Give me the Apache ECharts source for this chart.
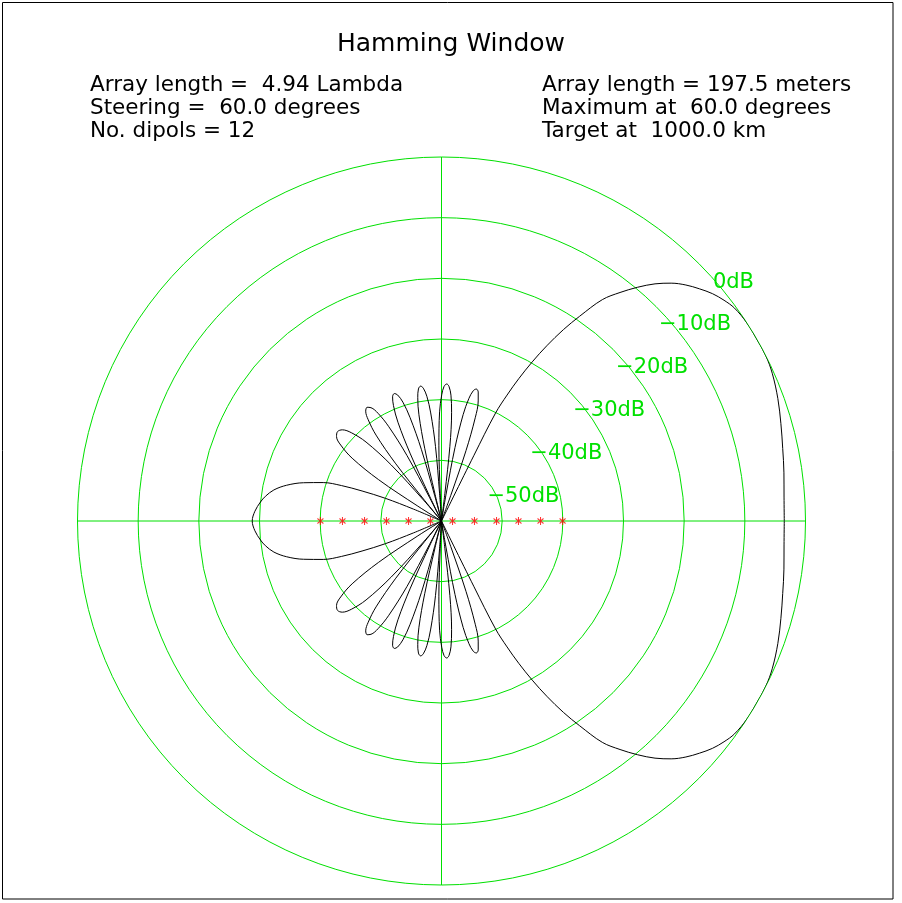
<!DOCTYPE html>
<html>
<head>
  <meta charset="utf-8">
  <script src="https://cdn.jsdelivr.net/npm/echarts@6/dist/echarts.min.js"></script>
  <style>
    html, body { margin: 0; padding: 0; background: #fff; }
    #main { width: 902px; height: 903px; }
  </style>
</head>
<body>
  <div id="main"></div>
  <script>
    // pattern, upper half only: [angle in degrees from the array axis, dB]
    var mainLobe = [
      [0, -3.5], [4, -3.4], [8, -3.0], [12, -2.5], [16, -1.8], [20, -1.0], [24, -0.3],
      [27, 0], [30, 0], [33, 0], [36, -0.3], [38, -0.9], [40, -1.7], [42, -2.8],
      [44, -4.0], [46, -5.5], [48, -7.4], [50, -9.7], [52, -12.2], [54, -14.9],
      [56, -19.3], [57.5, -22.6], [59, -26.3], [60.3, -29.8], [61.5, -33.3],
      [62.5, -36.6], [63.4, -40.1], [63.7, -48], [64, -60]
    ];
    var sideLobes = [
      [[69.7, -60], [70.1, -55.5], [70.8, -47.7], [71.9, -42.1], [73.0, -39.3], [74.1, -37.9], [75.2, -37.5],
       [76.3, -37.9], [77.4, -39.3], [78.5, -42.1], [79.6, -47.7], [80.3, -55.5], [80.7, -60]],
      [[82.6, -60], [83.0, -55.4], [83.6, -47.6], [84.7, -42.0], [85.7, -39.2], [86.8, -37.8], [87.8, -37.4],
       [88.9, -37.8], [89.9, -39.2], [91.0, -42.0], [92.0, -47.6], [92.6, -55.4], [93.1, -60]],
      [[93.6, -60], [94.0, -55.5], [94.6, -47.7], [95.7, -42.1], [96.7, -39.3], [97.8, -37.9], [98.8, -37.5],
       [99.9, -37.9], [100.9, -39.3], [102.0, -42.1], [103.0, -47.7], [103.6, -55.5], [104.1, -60]],
      [[104.6, -60], [105.0, -55.6], [105.7, -47.8], [106.9, -42.2], [108.0, -39.4], [109.2, -38.0], [110.3, -37.6],
       [111.5, -38.0], [112.6, -39.4], [113.8, -42.2], [114.9, -47.8], [115.6, -55.6], [116.1, -60]],
      [[116.5, -60], [117.0, -55.6], [117.8, -47.8], [119.2, -42.2], [120.5, -39.4], [121.9, -38.0], [123.2, -37.6],
       [124.6, -38.0], [125.9, -39.4], [127.3, -42.2], [128.6, -47.8], [129.4, -55.6], [130.0, -60]],
      [[130.7, -55.4], [131.9, -47.6], [133.7, -42.0], [135.6, -39.2], [137.4, -37.8], [139.3, -37.4],
       [141.2, -37.8], [143.0, -39.2], [144.9, -42.0], [146.7, -47.6], [147.9, -55.4], [148.6, -60]]
    ];
    var backLobe = [
      [156, -60], [157, -55], [158, -50], [159.3, -46], [160.5, -42.5], [162, -39.5],
      [164.5, -36.4], [167, -33.8], [169.5, -31.9], [172, -30.7], [174, -30.0],
      [177, -29.2], [180, -28.8]
    ];

    // dipole positions along the array, meters
    var dipoleX = [-98.8, -80.8, -62.8, -44.9, -26.9, -9.0, 9.0, 26.9, 44.9, 62.8, 80.8, 98.8];

    var dbTicks = [-50, -40, -30, -20, -10, 0];
    var dbLabels = ['\u221250dB', '\u221240dB', '\u221230dB', '\u221220dB', '\u221210dB', '0dB'];

    var leftInfo = ['Array length =  4.94 Lambda', 'Steering =  60.0 degrees', 'No. dipols = 12'];
    var rightInfo = ['Array length = 197.5 meters', 'Maximum at  60.0 degrees', 'Target at  1000.0 km'];

    var GREEN = '#00e000';
    var FONT = 'DejaVu Sans';
    var CX = 441.5, CY = 521, R = 364;

    // upper half, then the mirror image below the axis
    var upper = mainLobe.slice();
    sideLobes.forEach(function (l) { upper = upper.concat(l); });
    upper = upper.concat(backLobe);
    var lower = upper.slice(0, -1).reverse().map(function (p) { return [360 - p[0], p[1]]; });
    var pattern = upper.concat(lower).map(function (p) { return [Math.max(p[1], -60), p[0]]; });

    var chart = echarts.init(document.getElementById('main'));

    var option = {
      animation: false,
      backgroundColor: '#fff',
      title: [
        {
          text: 'Hamming Window', left: 'center', top: 31, padding: 0,
          textStyle: { fontFamily: FONT, fontSize: 25, fontWeight: 'normal', color: '#000', lineHeight: 26 }
        },
        {
          text: leftInfo.join('\n'), left: 90, top: 74, padding: 0,
          textStyle: { fontFamily: FONT, fontSize: 21.5, fontWeight: 'normal', color: '#000', lineHeight: 23 }
        },
        {
          text: rightInfo.join('\n'), left: 542, top: 74, padding: 0,
          textStyle: { fontFamily: FONT, fontSize: 21.5, fontWeight: 'normal', color: '#000', lineHeight: 23 }
        }
      ],
      polar: [
        { center: [CX, CY], radius: R },
        { center: [CX, CY], radius: R }
      ],
      angleAxis: [
        {
          polarIndex: 0, type: 'value', min: 0, max: 360, interval: 90,
          startAngle: 0, clockwise: false,
          axisLine: { show: false },
          axisTick: { show: false }, axisLabel: { show: false },
          splitLine: { show: true, lineStyle: { color: GREEN, width: 1 } }
        },
        {
          polarIndex: 1, type: 'value', min: 0, max: 360, startAngle: 45, clockwise: false,
          axisLine: { show: false }, axisTick: { show: false },
          axisLabel: { show: false }, splitLine: { show: false }
        }
      ],
      radiusAxis: [
        {
          polarIndex: 0, type: 'value', min: -60, max: 0, interval: 10,
          axisLine: { show: false }, axisTick: { show: false }, axisLabel: { show: false },
          splitLine: { show: true, lineStyle: { color: GREEN, width: 1 } }
        },
        {
          polarIndex: 1, type: 'value', min: -60, max: 0, interval: 10,
          axisLine: { show: false }, axisTick: { show: false }, splitLine: { show: false },
          axisLabel: {
            show: true, margin: 0, color: GREEN, fontFamily: FONT, fontSize: 21,
            align: 'left', verticalAlign: 'middle', padding: [37, 0, 0, 3],
            formatter: function (v) {
              var i = dbTicks.indexOf(v);
              if (i < 0) return '';
              return v === 0 ? '{zero|' + dbLabels[i] + '}' : dbLabels[i];
            },
            rich: {
              zero: { padding: [0, 0, 0, 11], color: GREEN, fontFamily: FONT, fontSize: 21 }
            }
          }
        }
      ],
      grid: { left: CX - R, top: CY - R, width: 2 * R, height: 2 * R },
      xAxis: { type: 'value', min: -297, max: 297, show: false },
      yAxis: { type: 'value', min: -297, max: 297, show: false },
      graphic: [
        {
          type: 'rect', silent: true,
          shape: { x: 2.5, y: 2.5, width: 890.5, height: 896.5 },
          style: { fill: 'none', stroke: '#000', lineWidth: 1 }
        }
      ],
      series: [
        {
          type: 'line', coordinateSystem: 'polar', polarIndex: 0,
          data: pattern, symbol: 'none', clip: false, z: 3, smooth: 0.35,
          lineStyle: { color: '#000', width: 1 }
        },
        {
          type: 'scatter', xAxisIndex: 0, yAxisIndex: 0,
          data: dipoleX.map(function (x) { return [x, 0]; }),
          symbol: 'path://M3,0L3,8M0,1.5L6,6.5M6,1.5L0,6.5', symbolSize: [6, 8], z: 4,
          itemStyle: { color: 'rgba(0,0,0,0)', borderColor: '#ff0000', borderWidth: 1.2 }
        }
      ]
    };

    chart.setOption(option);
  </script>
</body>
</html>
